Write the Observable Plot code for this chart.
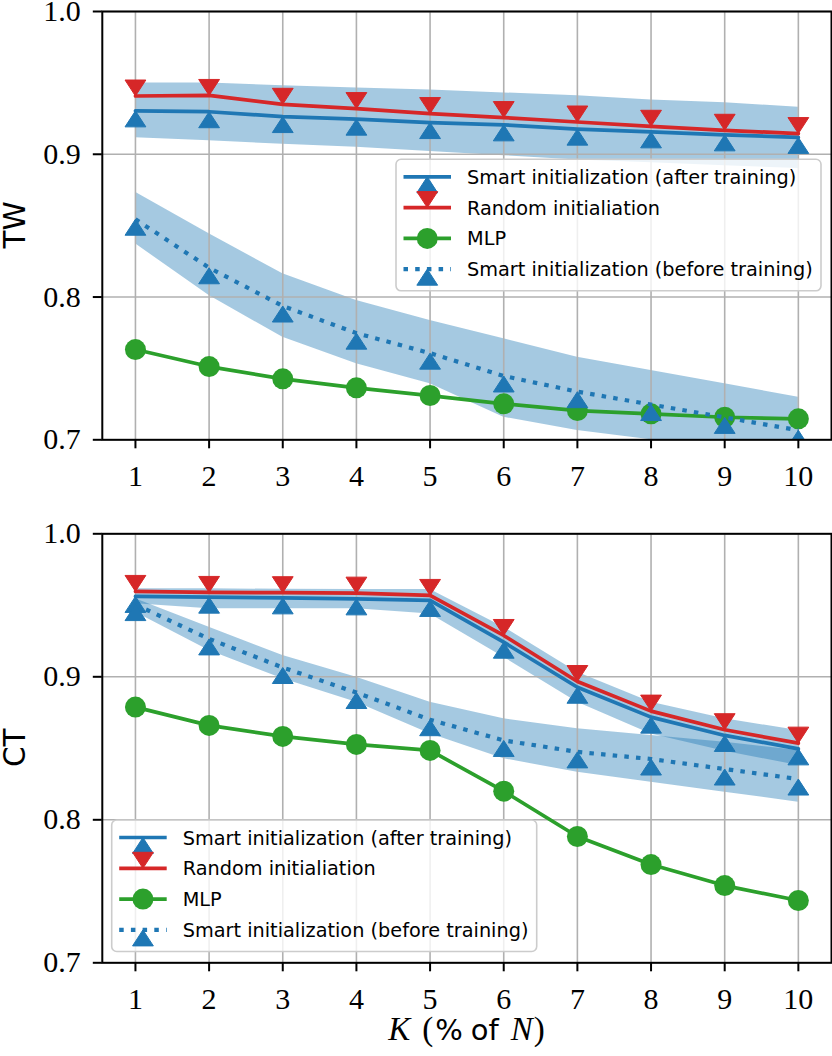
<!DOCTYPE html>
<html>
<head>
<meta charset="utf-8">
<script src="https://cdn.jsdelivr.net/npm/d3@7"></script>
<script src="https://cdn.jsdelivr.net/npm/@observablehq/plot@0.6"></script>
<style>
  body { margin: 0; background: #fff; }
  #chart svg { display: block; }
</style>
</head>
<body>
<div id="chart"></div>
<script>
// ---------- data ----------
const K = [1, 2, 3, 4, 5, 6, 7, 8, 9, 10];
const xTicks = [1, 2, 3, 4, 5, 6, 7, 8, 9, 10];
const yTicks = [0.7, 0.8, 0.9, 1.0];

const seriesNames = [
  "Smart initialization (after training)",
  "Random initialiation",
  "MLP",
  "Smart initialization (before training)"
];

// TW panel
const twAfter    = [0.9304, 0.9298, 0.9264, 0.9246, 0.9222, 0.9206, 0.9176, 0.9157, 0.9136, 0.9118];
const twAfterLo  = [0.9115, 0.9095, 0.9070, 0.9050, 0.9020, 0.8990, 0.8960, 0.8940, 0.8920, 0.8900];
const twAfterHi  = [0.9500, 0.9500, 0.9480, 0.9465, 0.9450, 0.9430, 0.9410, 0.9380, 0.9360, 0.9330];
const twRandom   = [0.9408, 0.9412, 0.9350, 0.9320, 0.9285, 0.9257, 0.9226, 0.9196, 0.9168, 0.9145];
const twMLP      = [0.7632, 0.7513, 0.7427, 0.7364, 0.7310, 0.7252, 0.7205, 0.7182, 0.7158, 0.7147];
const twBefore   = [0.8545, 0.8205, 0.7937, 0.7747, 0.7607, 0.7447, 0.7337, 0.7247, 0.7157, 0.7067];
const twBeforeLo = [0.8373, 0.8010, 0.7718, 0.7532, 0.7392, 0.7158, 0.7065, 0.7000, 0.6930, 0.6870];
const twBeforeHi = [0.8734, 0.8443, 0.8163, 0.7975, 0.7835, 0.7707, 0.7578, 0.7485, 0.7392, 0.7298];

// CT panel
const ctAfter    = [0.9562, 0.9557, 0.9552, 0.9545, 0.9534, 0.9242, 0.8927, 0.8718, 0.8590, 0.8496];
const ctAfterLo  = [0.9510, 0.9476, 0.9476, 0.9476, 0.9440, 0.9137, 0.8822, 0.8600, 0.8480, 0.8380];
const ctAfterHi  = [0.9615, 0.9615, 0.9612, 0.9610, 0.9610, 0.9347, 0.9032, 0.8822, 0.8706, 0.8624];
const ctRandom   = [0.9597, 0.9590, 0.9588, 0.9585, 0.9569, 0.9289, 0.8967, 0.8760, 0.8630, 0.8536];
const ctMLP      = [0.8788, 0.8660, 0.8583, 0.8527, 0.8485, 0.8200, 0.7883, 0.7687, 0.7540, 0.7436];
const ctBefore   = [0.9505, 0.9265, 0.9065, 0.8890, 0.8700, 0.8555, 0.8475, 0.8425, 0.8355, 0.8285];
const ctBeforeLo = [0.9452, 0.9184, 0.8986, 0.8822, 0.8601, 0.8427, 0.8333, 0.8263, 0.8193, 0.8123];
const ctBeforeHi = [0.9545, 0.9347, 0.9149, 0.8997, 0.8822, 0.8706, 0.8636, 0.8590, 0.8543, 0.8485];

// ---------- styles ----------
const BLUE = "#1f77b4", RED = "#d62728", GREEN = "#2ca02c";
const GRID = "#b0b0b0";
const LW = 3.7;
const DOT_LW = 4.2;
const DOTS = "4.5,7.2";
const TRI_W = 10.4, TRI_H = 16, CIRC_R = 10.5;
const SERIF = "'Liberation Serif', 'Times New Roman', serif";
const SANS = "'DejaVu Sans', sans-serif";

// caret markers: tip at the data point
const caretUp = { draw(ctx) { ctx.moveTo(0, 0); ctx.lineTo(-TRI_W, TRI_H); ctx.lineTo(TRI_W, TRI_H); ctx.closePath(); } };
const caretDown = { draw(ctx) { ctx.moveTo(0, 0); ctx.lineTo(-TRI_W, -TRI_H); ctx.lineTo(TRI_W, -TRI_H); ctx.closePath(); } };

const legendItems = [
  { name: seriesNames[0], color: BLUE, marker: "up", dash: null },
  { name: seriesNames[1], color: RED, marker: "down", dash: null },
  { name: seriesNames[2], color: GREEN, marker: "circle", dash: null },
  { name: seriesNames[3], color: BLUE, marker: "up", dash: DOTS }
];

function markerPath(kind, cx, cy) {
  if (kind === "up") return `M${cx},${cy}L${cx - TRI_W},${cy + TRI_H}L${cx + TRI_W},${cy + TRI_H}Z`;
  if (kind === "down") return `M${cx},${cy}L${cx - TRI_W},${cy - TRI_H}L${cx + TRI_W},${cy - TRI_H}Z`;
  return null;
}

function legendMark(bx, by) {
  return () => {
    const g = d3.create("svg:g").attr("text-anchor", "start");
    g.append("rect")
      .attr("x", bx).attr("y", by).attr("width", 425).attr("height", 131.5)
      .attr("rx", 5).attr("ry", 5)
      .attr("fill", "white").attr("fill-opacity", 0.8)
      .attr("stroke", "#cccccc").attr("stroke-width", 1.6);
    legendItems.forEach((it, i) => {
      const cy = by + 17.5 + i * 30.8;
      const x0 = bx + 7.5, x1 = bx + 55, cx = (x0 + x1) / 2;
      const ln = g.append("line")
        .attr("x1", x0).attr("x2", x1).attr("y1", cy).attr("y2", cy)
        .attr("stroke", it.color).attr("stroke-width", it.dash ? DOT_LW : LW);
      if (it.dash) ln.attr("stroke-dasharray", DOTS).attr("stroke-linecap", "butt");
      if (it.marker === "circle") {
        g.append("circle").attr("cx", cx).attr("cy", cy).attr("r", CIRC_R).attr("fill", it.color);
      } else {
        g.append("path").attr("d", markerPath(it.marker, cx, cy)).attr("fill", it.color)
          .attr("stroke", it.color).attr("stroke-width", 1);
      }
      g.append("text")
        .attr("x", bx + 71).attr("y", cy + 7)
        .attr("text-anchor", "start")
        .attr("font-family", SANS).attr("font-size", 19.3)
        .attr("fill", "black")
        .text(it.name);
    });
    return g.node();
  };
}

function yLabelMark(text, cy) {
  return () => {
    const g = d3.create("svg:g");
    g.append("text")
      .attr("transform", `translate(25,${cy}) rotate(-90)`)
      .attr("text-anchor", "middle")
      .attr("font-family", SANS).attr("font-size", 29.5)
      .attr("fill", "black")
      .text(text);
    return g.node();
  };
}

function xLabelMark(cx, y) {
  return () => {
    const g = d3.create("svg:g");
    const t = g.append("text")
      .attr("x", cx).attr("y", y)
      .attr("text-anchor", "middle")
      .attr("fill", "black");
    t.append("tspan").attr("font-family", SERIF).attr("font-style", "italic").attr("font-size", 33).text("K");
    t.append("tspan").attr("font-family", SERIF).attr("font-size", 33).attr("dx", 12).text("(");
    t.append("tspan").attr("font-family", SANS).attr("font-size", 29).attr("dx", 2).text("%");
    t.append("tspan").attr("font-family", SANS).attr("font-size", 29).attr("dx", 8).text("of");
    t.append("tspan").attr("font-family", SERIF).attr("font-style", "italic").attr("font-size", 33).attr("dx", 12).text("N");
    t.append("tspan").attr("font-family", SERIF).attr("font-size", 33).attr("dx", 1).text(")");
    return g.node();
  };
}

function panel(opts) {
  const rows = K.map((k, i) => ({
    k,
    after: opts.after[i], afterLo: opts.afterLo[i], afterHi: opts.afterHi[i],
    random: opts.random[i], mlp: opts.mlp[i],
    before: opts.before[i], beforeLo: opts.beforeLo[i], beforeHi: opts.beforeHi[i]
  }));
  const marks = [
    Plot.areaY(rows, { x: "k", y1: "afterLo", y2: "afterHi", fill: BLUE, fillOpacity: 0.4, clip: true }),
    Plot.areaY(rows, { x: "k", y1: "beforeLo", y2: "beforeHi", fill: BLUE, fillOpacity: 0.4, clip: true }),
    Plot.gridX(xTicks, { stroke: GRID, strokeOpacity: 1, strokeWidth: 1.6 }),
    Plot.gridY(yTicks, { stroke: GRID, strokeOpacity: 1, strokeWidth: 1.6 }),
    Plot.line(rows, { x: "k", y: "after", stroke: BLUE, strokeWidth: LW, clip: true }),
    Plot.dot(rows, { x: "k", y: "after", symbol: caretUp, fill: BLUE, stroke: BLUE, strokeWidth: 1, clip: true }),
    Plot.line(rows, { x: "k", y: "random", stroke: RED, strokeWidth: LW, clip: true }),
    Plot.dot(rows, { x: "k", y: "random", symbol: caretDown, fill: RED, stroke: RED, strokeWidth: 1, clip: true }),
    Plot.line(rows, { x: "k", y: "mlp", stroke: GREEN, strokeWidth: LW, clip: true }),
    Plot.dot(rows, { x: "k", y: "mlp", r: CIRC_R, fill: GREEN, clip: true }),
    Plot.line(rows, { x: "k", y: "before", stroke: BLUE, strokeWidth: DOT_LW, strokeDasharray: DOTS, strokeLinecap: "butt", clip: true }),
    Plot.dot(rows, { x: "k", y: "before", symbol: caretUp, fill: BLUE, stroke: BLUE, strokeWidth: 1, clip: true }),
    Plot.axisX({ ticks: xTicks, tickSize: 9, tickPadding: 15.5, tickFormat: d => String(d), strokeWidth: 2, label: null, fontSize: 30, fontFamily: SERIF }),
    Plot.axisY({ ticks: yTicks, tickSize: 9, tickPadding: 12.5, tickFormat: d3.format(".1f"), strokeWidth: 2, label: null, fontSize: 30, fontFamily: SERIF }),
    Plot.frame({ stroke: "black", strokeWidth: 2 }),
    yLabelMark(opts.label, opts.labelY),
    legendMark(opts.legendX, opts.legendY)
  ];
  if (opts.xlabel) marks.push(xLabelMark(466.4, opts.xlabelY));
  return Plot.plot({
    width: 832,
    height: opts.height,
    marginLeft: 101.8,
    marginRight: 1,
    marginTop: opts.marginTop,
    marginBottom: opts.marginBottom,
    x: { domain: [0.55, 10.45] },
    y: { domain: [0.7, 1.0] },
    style: { fontFamily: SERIF, fontSize: "30px", color: "black", background: "white", overflow: "visible" },
    marks
  });
}

const twPanel = panel({
  after: twAfter, afterLo: twAfterLo, afterHi: twAfterHi, random: twRandom, mlp: twMLP,
  before: twBefore, beforeLo: twBeforeLo, beforeHi: twBeforeHi,
  label: "TW", labelY: 225, legendX: 396, legendY: 159.3,
  height: 500, marginTop: 11, marginBottom: 60.7
});
const ctPanel = panel({
  after: ctAfter, afterLo: ctAfterLo, afterHi: ctAfterHi, random: ctRandom, mlp: ctMLP,
  before: ctBefore, beforeLo: ctBeforeLo, beforeHi: ctBeforeHi,
  label: "CT", labelY: 247.8, legendX: 111.7, legendY: 320,
  height: 556, marginTop: 33.3, marginBottom: 93.7,
  xlabel: true, xlabelY: 540
});
document.getElementById("chart").append(twPanel, ctPanel);
</script>
</body>
</html>
